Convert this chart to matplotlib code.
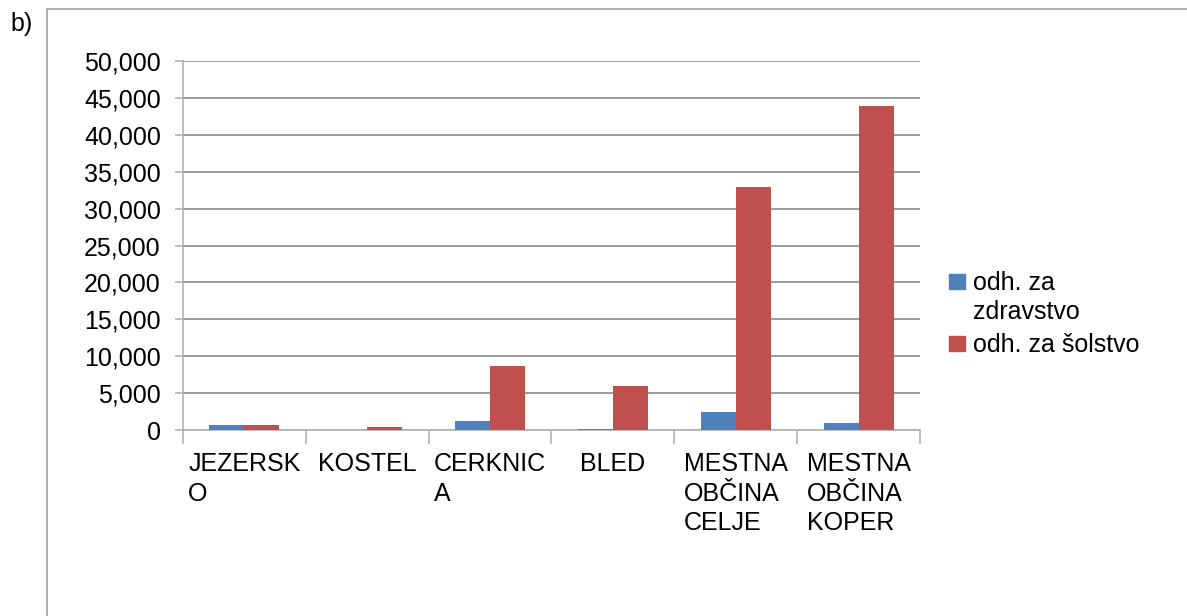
import matplotlib
matplotlib.use("Agg")
import matplotlib.pyplot as plt
import numpy as np
from matplotlib.ticker import FuncFormatter, FixedLocator
from matplotlib.patches import Rectangle
from matplotlib.lines import Line2D

plt.rcParams['font.family'] = ['Liberation Sans', 'DejaVu Sans']

# data
categories = ['JEZERSK\nO', 'KOSTEL', 'CERKNIC\nA', 'BLED',
              'MESTNA\nOBČINA\nCELJE', 'MESTNA\nOBČINA\nKOPER']
zdravstvo = [650, 50, 1200, 200, 2400, 950]
solstvo = [650, 400, 8700, 6000, 32900, 43900]
series_names = ['odh. za\nzdravstvo', 'odh. za šolstvo']
colors = ['#4F81BD', '#C0504D']

fig = plt.figure(figsize=(11.87, 6.16), dpi=100)
ax = fig.add_axes([0.1542, 0.3019, 0.775 - 0.1542, 0.901 - 0.3019])

x = np.arange(len(categories))
w = 0.285
ax.bar(x - w / 2, zdravstvo, w, color=colors[0], zorder=3)
ax.bar(x + w / 2, solstvo, w, color=colors[1], zorder=3)

ax.set_xlim(-0.5, len(categories) - 0.5)
ax.set_ylim(0, 50000)
ax.set_yticks(np.arange(0, 50001, 5000))
ax.yaxis.set_major_formatter(FuncFormatter(lambda v, p: '{:,.0f}'.format(v)))
ax.grid(axis='y', color='#8a8a8a', linewidth=1.2, zorder=0)

ax.set_xticks(x)
ax.set_xticklabels(categories, multialignment='left', linespacing=1.28)
ax.xaxis.set_minor_locator(FixedLocator(np.arange(-0.5, len(categories), 1)))
ax.tick_params(axis='x', which='major', length=0, pad=16, labelsize=18)
ax.tick_params(axis='x', which='minor', length=10, width=1.2, color='#b3b3b3')
ax.tick_params(axis='y', length=6, width=1.2, color='#b3b3b3', labelsize=18, pad=10)
for lab in ax.get_xticklabels():
    lab.set_verticalalignment('top')

for s in ['top', 'right']:
    ax.spines[s].set_visible(False)
ax.spines['left'].set_color('#b3b3b3')
ax.spines['bottom'].set_color('#b3b3b3')
ax.spines['left'].set_linewidth(1.2)
ax.spines['bottom'].set_linewidth(1.2)

# legend, drawn in figure coords
W, H = 1187, 616
sq = 15
for i, (name, c, ytop) in enumerate(zip(series_names, colors, [274, 336])):
    fig.patches.append(Rectangle((949 / W, 1 - (ytop + sq) / H), 16 / W, sq / H,
                                 transform=fig.transFigure, color=c))
    fig.text(973 / W, 1 - (ytop - 3) / H, name, fontsize=18, va='top', ha='left',
             linespacing=1.28)

# outer frame and panel label
fig.add_artist(Line2D([47 / W, 1], [1 - 9 / H, 1 - 9 / H], transform=fig.transFigure,
                      color='#a0a0a0', linewidth=1.2))
fig.add_artist(Line2D([47 / W, 47 / W], [0, 1 - 9 / H], transform=fig.transFigure,
                      color='#a0a0a0', linewidth=1.2))
fig.text(10 / W, 1 - 12 / H, 'b)', fontsize=18, va='top', ha='left')

fig.savefig('out.png', dpi=100)
